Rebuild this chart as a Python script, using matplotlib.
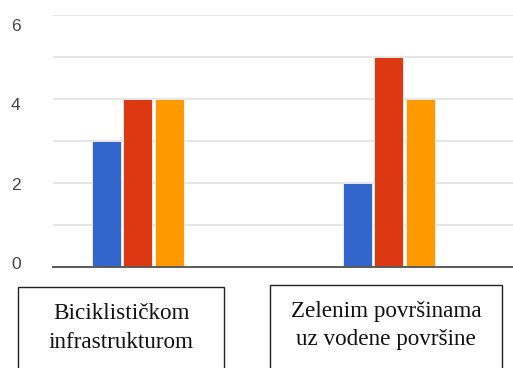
import matplotlib
matplotlib.use("Agg")
import matplotlib.pyplot as plt
from matplotlib.patches import Rectangle
import numpy as np

# Data
categories = ["Biciklističkom\ninfrastrukturom", "Zelenim površinama\nuz vodene površine"]
series_a = [3, 2]
series_b = [4, 5]
series_c = [4, 4]
colors = ["#3366cc", "#dc3912", "#ff9900"]
yticks = [0, 2, 4, 6]

W, H = 513, 368
fig = plt.figure(figsize=(W / 100, H / 100), dpi=100)
ax = fig.add_axes([52.7 / W, 1 - 266.5 / H, (W - 52.7) / W, (266.5 - 15) / H])

x = np.arange(len(categories))
bw = 0.1155
step = 0.1258
for i, (vals, c) in enumerate(zip([series_a, series_b, series_c], colors)):
    ax.bar(x + (i - 1) * step, vals, width=bw, color=c, edgecolor="#f4f4f4",
           linewidth=0.6, zorder=3)

ax.set_xlim(-0.3388, 1.4937)
ax.set_ylim(0, 6)
ax.set_xticks([])
ax.set_yticks(range(0, 7))
ax.yaxis.grid(True, color="#e2e2e2", linewidth=1.2, zorder=0)
ax.tick_params(axis="y", length=0, labelleft=False)
for s in ["top", "right", "left"]:
    ax.spines[s].set_visible(False)
ax.spines["bottom"].set_color("#5a5a5a")
ax.spines["bottom"].set_linewidth(1.4)
ax.spines["bottom"].set_zorder(4)

# Value labels on the left
sec = ax.secondary_yaxis("left", functions=(lambda y: (y - 0.0716) / 0.95,
                                            lambda s: s * 0.95 + 0.0716))
sec.set_yticks(yticks)
sec.set_yticklabels([str(v) for v in yticks])
sec.tick_params(length=0, pad=26.5, labelsize=12.5, labelcolor="#444444")
sec.spines["left"].set_visible(False)
for lbl in sec.get_yticklabels():
    lbl.set_fontfamily("Liberation Sans")
    lbl.set_horizontalalignment("center")

# Boxed category captions
boxes = [(18.3, 224.0, 287.3), (270.0, 502.3, 285.0)]
for (x0, x1, top), label in zip(boxes, categories):
    fig.patches.append(Rectangle((x0 / W, -0.05), (x1 - x0) / W, 1 - top / H + 0.05,
                                 transform=fig.transFigure, fill=False,
                                 edgecolor="#222222", linewidth=1.0))
    for k, line in enumerate(label.split("\n")):
        fig.text((x0 + x1) / 2 / W, 1 - (top + 32 + 28.3 * k) / H, line,
                 ha="center", va="baseline", family="Liberation Serif",
                 fontsize=16.7, color="#111111")

fig.savefig("out.png", dpi=100)
